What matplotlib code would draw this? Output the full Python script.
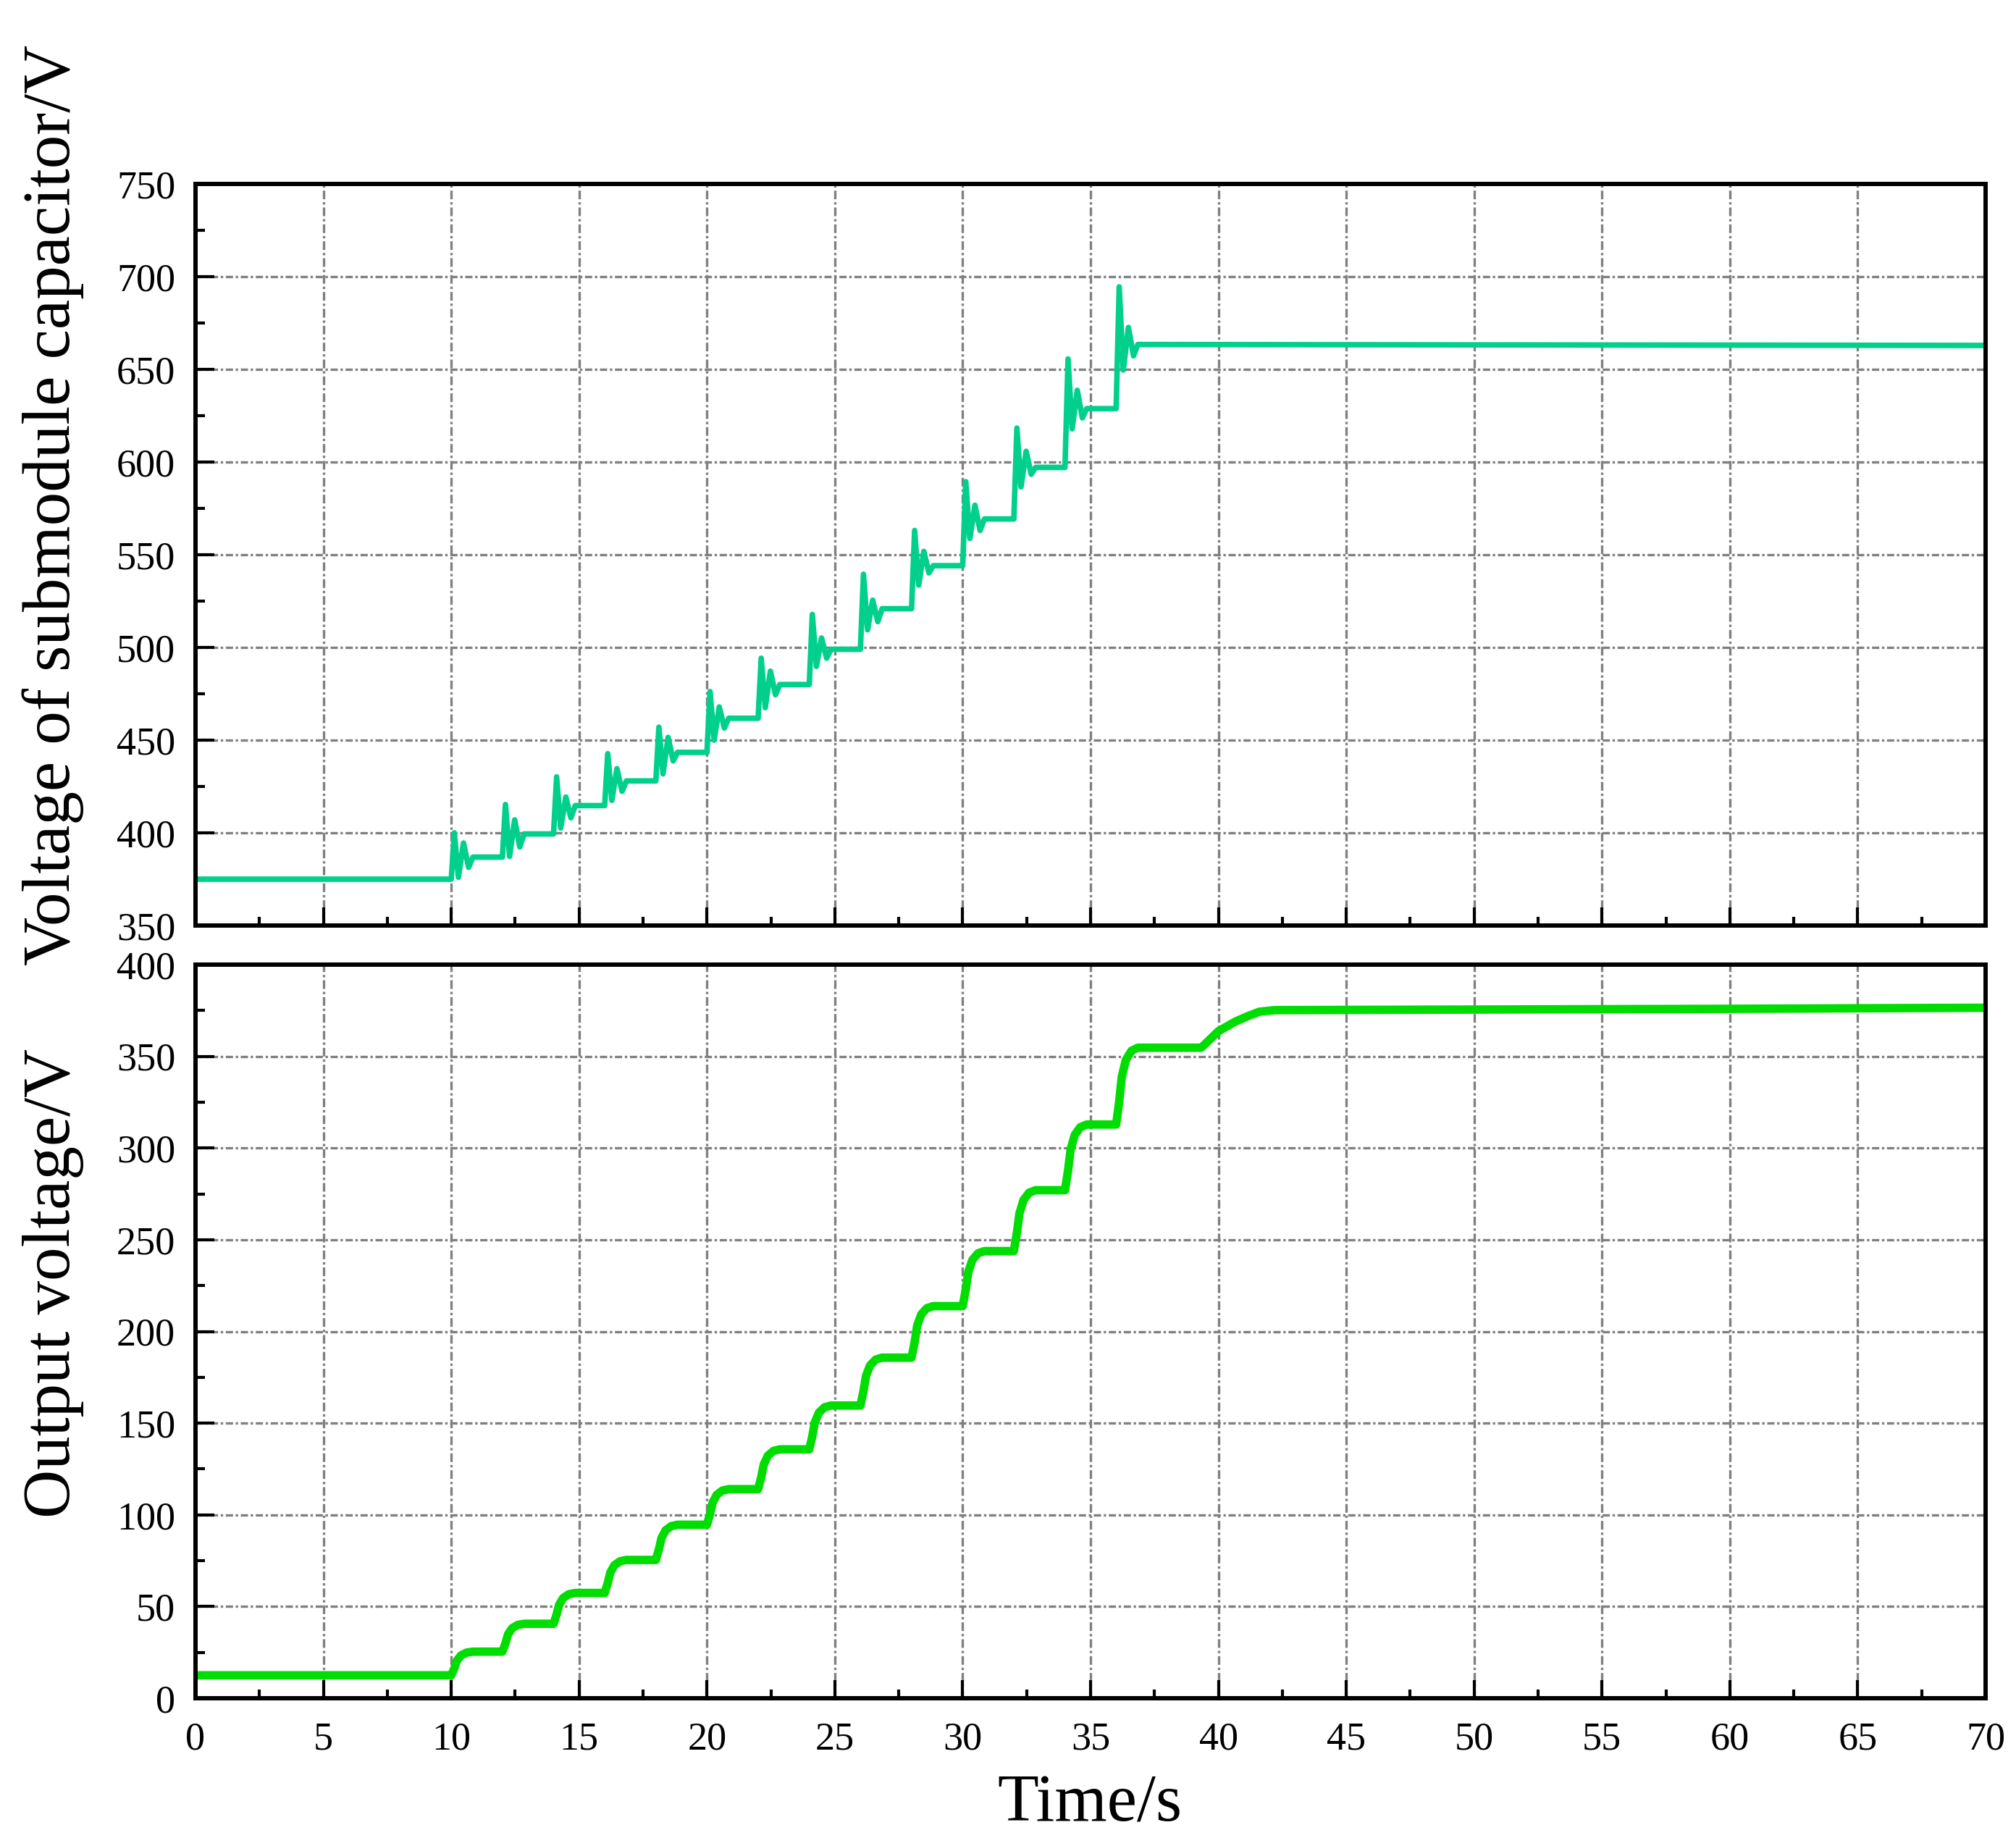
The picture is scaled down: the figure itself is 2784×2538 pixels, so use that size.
import numpy as np
import matplotlib
matplotlib.use("Agg")
import matplotlib.pyplot as plt
from matplotlib.ticker import MultipleLocator

# --- submodule capacitor voltage (top panel) ---
# step instants (s) and the plateau reached after each step (V)
step_t = [10, 12, 14, 16, 18, 20, 22, 24, 26, 28, 30, 32, 34, 36]
cap_start = 375.0
cap_level = [386.9, 399.4, 414.7, 428.0, 443.4, 461.8, 480.0, 499.0,
             520.9, 544.1, 569.3, 597.1, 628.8, 663.4]
cap_peak1 = [400.0, 415.3, 430.2, 442.7, 457.0, 476.2, 494.2, 517.8,
             539.5, 563.1, 589.4, 618.3, 655.6, 694.5]
cap_dip1 = [376.0, 387.3, 402.6, 417.5, 431.8, 450.0, 467.5, 489.8,
            509.5, 533.6, 558.8, 586.6, 617.9, 649.6]
cap_peak2 = [394.5, 407.0, 419.3, 434.6, 451.5, 467.9, 487.2, 505.1,
             525.5, 551.8, 576.7, 605.8, 638.7, 672.6]
cap_dip2 = [381.4, 392.4, 408.1, 422.4, 438.8, 456.5, 474.5, 494.2,
            513.9, 540.2, 563.1, 593.4, 623.8, 657.3]
# timing of the ringing after each step (s after the step)
ring_dt = [0.0, 0.12, 0.28, 0.48, 0.68, 0.85]
cap_tail_t = [50.0, 70.0]
cap_tail_v = [663.2, 662.9]

# --- output voltage (bottom panel) ---
out_start = 12.5
out_level = [25.4, 40.6, 57.4, 75.4, 94.6, 114.0, 135.7, 159.6,
             185.7, 213.8, 243.8, 277.0, 312.8, 354.7]
# rise shape of each step: time after step (s), fraction of the step reached
rise_dt = [0.0, 0.12, 0.22, 0.38, 0.60, 0.85]
rise_frac = [0.0, 0.30, 0.62, 0.84, 0.96, 1.0]
out_tail_t = [39.33, 40.0, 40.67, 41.2, 41.6, 42.2, 50.0, 60.0, 70.0]
out_tail_v = [354.7, 363.7, 369.0, 372.2, 374.3, 375.2, 375.5, 375.9, 376.5]

# build polylines
cap_t, cap_v = [0.0], [cap_start]
prev = cap_start
for i, t0 in enumerate(step_t):
    vals = [prev, cap_peak1[i], cap_dip1[i], cap_peak2[i], cap_dip2[i], cap_level[i]]
    for dt, v in zip(ring_dt, vals):
        cap_t.append(t0 + dt)
        cap_v.append(v)
    prev = cap_level[i]
cap_t += cap_tail_t
cap_v += cap_tail_v

out_t, out_v = [0.0], [out_start]
prev = out_start
for i, t0 in enumerate(step_t):
    for dt, f in zip(rise_dt, rise_frac):
        out_t.append(t0 + dt)
        out_v.append(prev + f * (out_level[i] - prev))
    prev = out_level[i]
out_t += out_tail_t
out_v += out_tail_v

plt.rcParams["font.family"] = ["Liberation Serif", "DejaVu Serif"]

W, H = 2784, 2538
fig = plt.figure(figsize=(W / 100, H / 100), dpi=100)
left, right = 270 / W, 2742 / W
ax1 = fig.add_axes([left, 1 - 1278 / H, right - left, (1278 - 254) / H])
ax2 = fig.add_axes([left, 1 - 2345 / H, right - left, (2345 - 1332) / H])

grid_kw = dict(color="#808080", linewidth=2.4)
for ax in (ax1, ax2):
    ax.set_xlim(0, 70)
    ax.xaxis.set_major_locator(MultipleLocator(5))
    ax.xaxis.set_minor_locator(MultipleLocator(2.5))
    ax.yaxis.set_minor_locator(MultipleLocator(25))
    ax.yaxis.set_major_locator(MultipleLocator(50))
    for sp in ax.spines.values():
        sp.set_linewidth(4.3)
    ax.tick_params(axis="both", which="both", direction="in", top=False, right=False,
                   width=3, labelsize=39)
    ax.tick_params(axis="y", which="major", length=19, pad=20)
    ax.tick_params(axis="y", which="minor", length=9.5)
    ax.tick_params(axis="x", which="major", length=18, pad=23)
    ax.tick_params(axis="x", which="minor", length=9)
    ax.grid(True, axis="x", which="major", linestyle=(0, (3.6, 1.2, 1.0, 1.2)), **grid_kw)
    ax.grid(True, axis="y", which="major", linestyle=(0, (3.0, 1.1, 1.0, 1.1)), **grid_kw)
    ax.set_axisbelow(True)

ax1.plot(cap_t, cap_v, color="#00D08C", linewidth=5.5)
ax1.set_ylim(350, 750)
ax1.tick_params(axis="x", labelbottom=False)

ax2.plot(out_t, out_v, color="#00DD00", linewidth=8.4)
ax2.set_ylim(0, 400)

fig.text(96 / W, 1 - 697 / H, "Voltage of submodule capacitor/V", rotation=90,
         rotation_mode="anchor", ha="center", va="baseline", fontsize=67)
fig.text(96 / W, 1 - 1772 / H, "Output voltage/V", rotation=90,
         rotation_mode="anchor", ha="center", va="baseline", fontsize=67)
fig.text(1505 / W, 1 - 2515 / H, "Time/s", ha="center", va="baseline", fontsize=67)

fig.savefig("out.png", dpi=100)
